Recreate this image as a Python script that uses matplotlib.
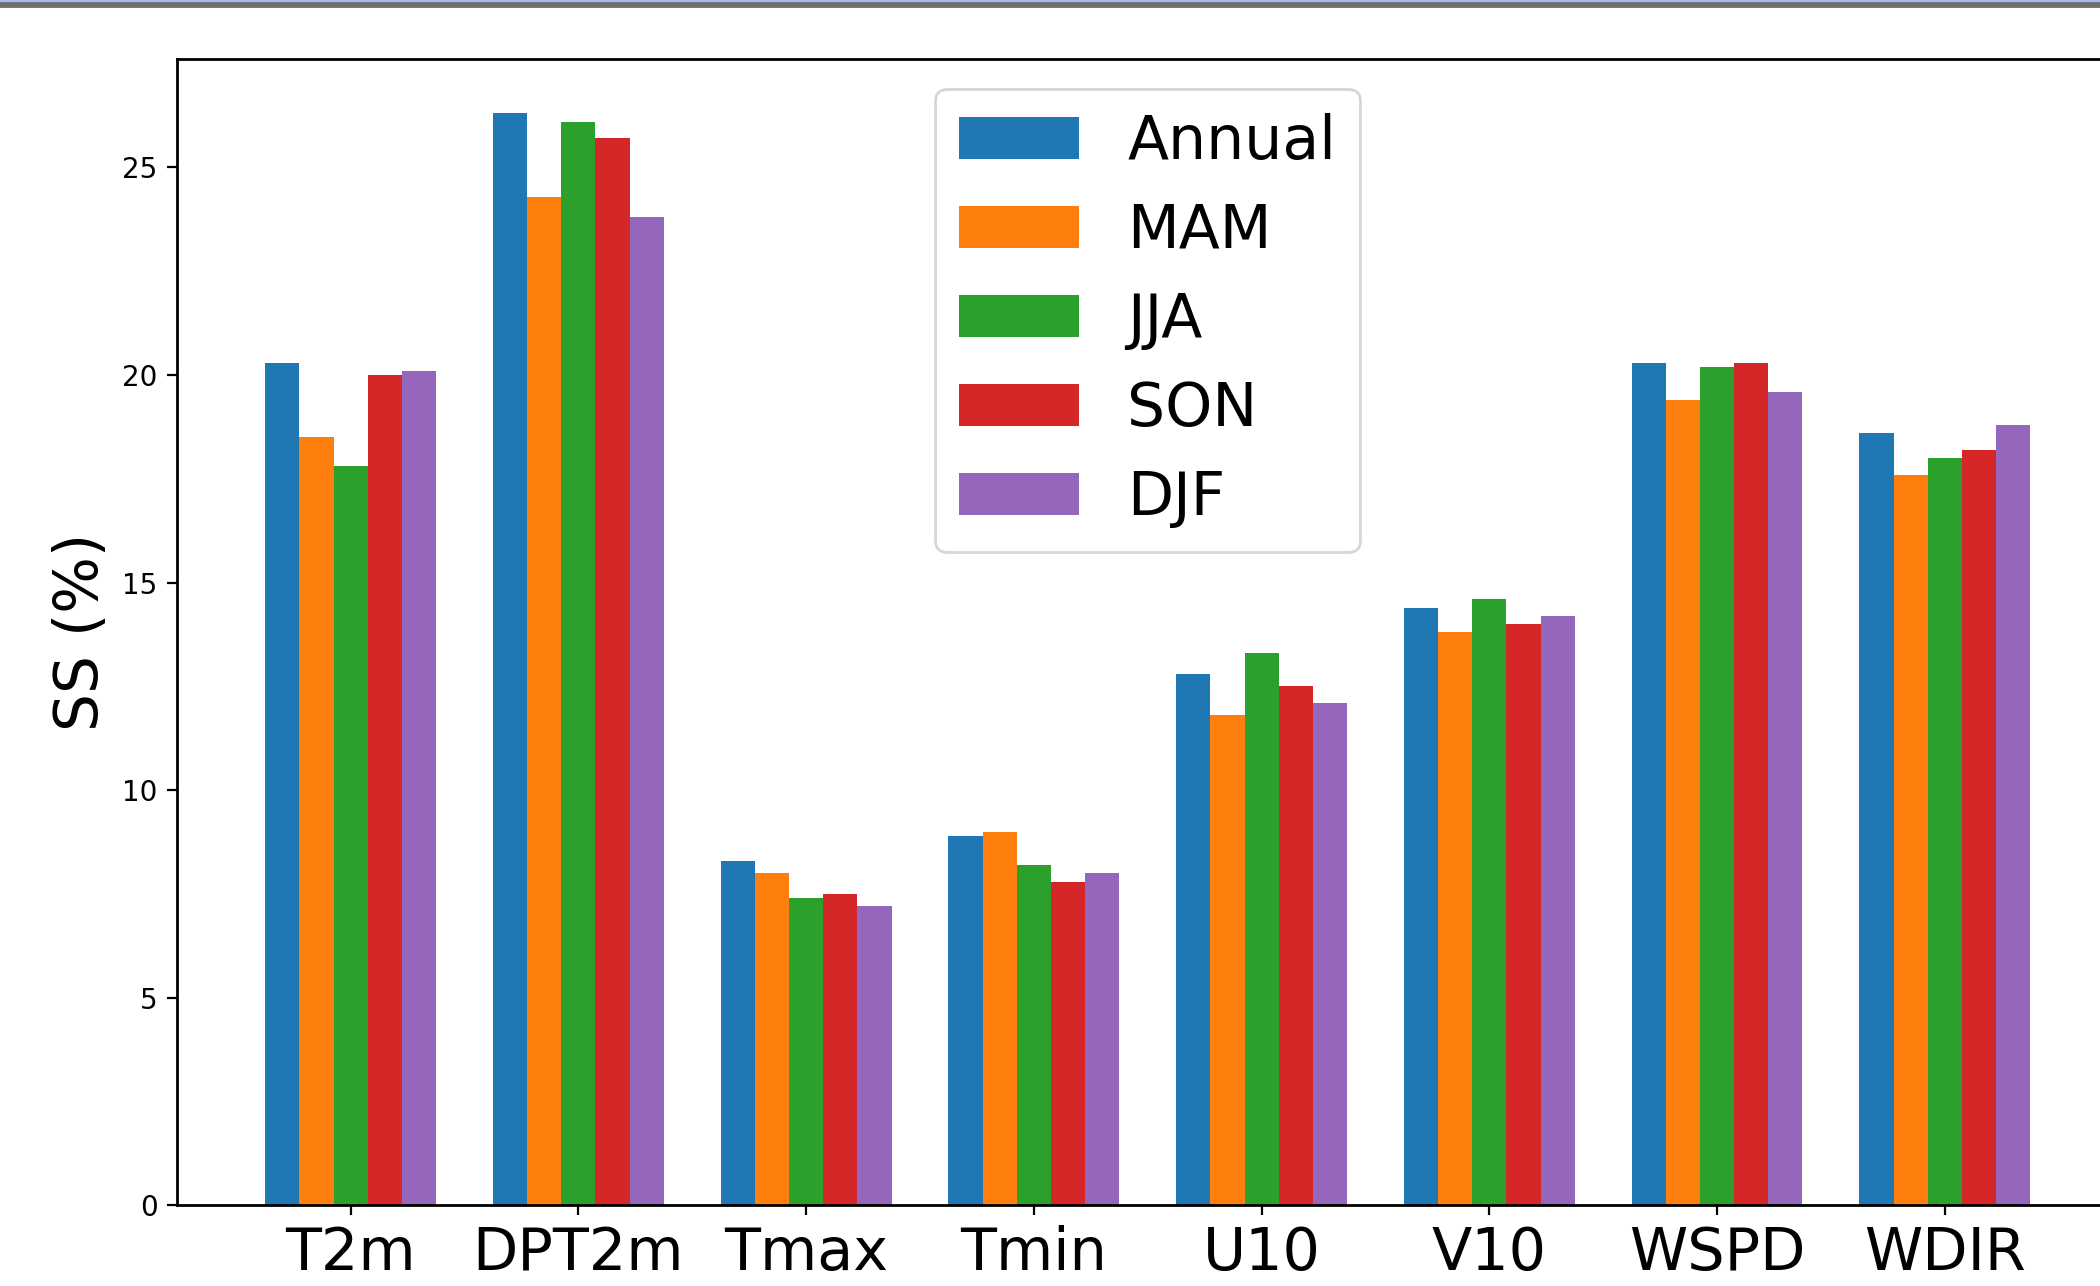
import matplotlib
matplotlib.use("Agg")
import matplotlib.pyplot as plt
import numpy as np

variables = ["T2m", "DPT2m", "Tmax", "Tmin", "U10", "V10", "WSPD", "WDIR"]
seasons = ["Annual", "MAM", "JJA", "SON", "DJF"]

annual = [20.3, 26.3, 8.3, 8.9, 12.8, 14.4, 20.3, 18.6]
mam = [18.5, 24.3, 8.0, 9.0, 11.8, 13.8, 19.4, 17.6]
jja = [17.8, 26.1, 7.4, 8.2, 13.3, 14.6, 20.2, 18.0]
son = [20.0, 25.7, 7.5, 7.8, 12.5, 14.0, 20.3, 18.2]
djf = [20.1, 23.8, 7.2, 8.0, 12.1, 14.2, 19.6, 18.8]

series = [annual, mam, jja, son, djf]

fig = plt.figure(figsize=(10.5, 6.43), dpi=200)
# axes runs off the right edge, like the cropped screenshot
ax = fig.add_axes([0.0843, 0.0627, 0.9245, 0.8915])

x = np.arange(len(variables))
w = 0.15
for i, (name, vals) in enumerate(zip(seasons, series)):
    ax.bar(x + (i - 2) * w, vals, w, label=name)

ax.set_xticks(x)
ax.set_xticklabels(variables, fontsize=21.2)
ax.set_ylabel("SS (%)", fontsize=21.5)
ax.tick_params(axis="y", labelsize=10)
for s in ax.spines.values():
    s.set_linewidth(1.0)
ax.legend(loc="upper center", fontsize=21.6)

# window frame strip at the top of the screenshot
fig.patches.append(plt.Rectangle((0, 1 - 3 / 1286), 1, 3 / 1286, transform=fig.transFigure,
                                 color="#a6bdeb", zorder=10))
fig.patches.append(plt.Rectangle((0, 1 - 5.5 / 1286), 1, 2.5 / 1286, transform=fig.transFigure,
                                 color="#6e6e6e", zorder=10))

fig.savefig("out.png", dpi=200)
